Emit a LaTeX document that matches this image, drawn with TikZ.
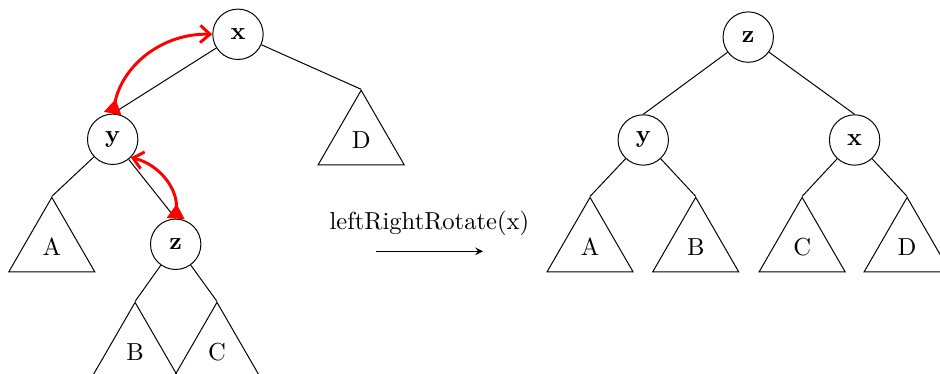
\documentclass[tikz,border=0pt]{standalone}
\usepackage{tikz}
\usetikzlibrary{arrows.meta, shapes.geometric, positioning}

\begin{document}
\begin{tikzpicture}[
    treenode/.style={draw, circle, minimum size=0.72cm, inner sep=0pt, font=\bfseries},
    subtree/.style={draw, regular polygon, regular polygon sides=3, minimum size=1.42cm, inner sep=0pt},
    rotarrow/.style={red, very thick, {Triangle[reversed, length=6pt, width=7pt]}-{Straight Barb[length=4pt, width=7pt]}}
]
    \useasboundingbox (0,0) rectangle (13.43,-5.34);
    \clip (0,0) rectangle (13.43,-5.34);
    % Left tree (before)
    \node[treenode] (x1) at (3.40,-0.49) {x};
    \node[treenode] (y1) at (1.61,-1.99) {y};
    \node[treenode] (z1) at (2.51,-3.49) {z};
    \node[subtree] (D1) at (5.16,-2.00) {D};
    \node[subtree] (A1) at (0.74,-3.53) {A};
    \node[subtree] (B1) at (1.93,-5.03) {B};
    \node[subtree] (C1) at (3.10,-5.03) {C};
    \draw (x1) -- (y1.north);
    \draw (x1) -- (D1.corner 1);
    \draw (y1) -- (A1.corner 1);
    \draw (y1) -- (z1.north);
    \draw (z1) -- (B1.corner 1);
    \draw (z1) -- (C1.corner 1);
    % Red rotation arrows
    \draw[rotarrow] (y1.north) to[bend left=40] (x1.west);
    \draw[rotarrow] (z1.north) to[bend right=40] (y1.south east);
    % Operation arrow
    \coordinate (opS) at (5.37,-3.59);
    \coordinate (opE) at (6.90,-3.59);
    \draw[-stealth] (opS) -- node[above=3pt] {leftRightRotate(x)} (opE);
    % Right tree (after)
    \node[treenode] (z2) at (10.69,-0.53) {z};
    \node[treenode] (y2) at (9.19,-2.00) {y};
    \node[treenode] (x2) at (12.21,-2.00) {x};
    \node[subtree] (A2) at (8.43,-3.53) {A};
    \node[subtree] (B2) at (9.94,-3.53) {B};
    \node[subtree] (C2) at (11.46,-3.53) {C};
    \node[subtree] (D2) at (12.96,-3.53) {D};
    \draw (z2) -- (y2.north);
    \draw (z2) -- (x2.north);
    \draw (y2) -- (A2.corner 1);
    \draw (y2) -- (B2.corner 1);
    \draw (x2) -- (C2.corner 1);
    \draw (x2) -- (D2.corner 1);
\end{tikzpicture}
\end{document}
